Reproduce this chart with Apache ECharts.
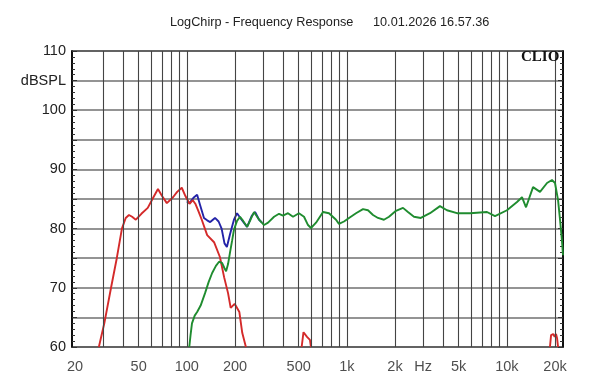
<!DOCTYPE html>
<html>
<head>
<meta charset="utf-8">
<script src="https://cdn.jsdelivr.net/npm/echarts@6/dist/echarts.min.js"></script>
<style>
html,body{margin:0;padding:0;background:#fff;}
#c{width:600px;height:384px;}
</style>
</head>
<body>
<div id="c"></div>
<script>
// ---- data ----
const titleText = 'LogChirp - Frequency Response';
const dateText = '10.01.2026 16.57.36';

const xGridFreqs = [30,40,50,60,70,80,90,100,200,300,400,500,600,700,800,900,1000,
  2000,3000,4000,5000,6000,7000,8000,9000,10000,20000];
const xLabelValues = [20,50,100,200,500,1000,2000,3000,5000,10000,20000];
const xLabelTexts = ['20','50','100','200','500','1k','2k','Hz','5k','10k','20k'];

const redMain = [[28.2,60],[30.5,64],[33.6,70],[36.5,75],[39.3,80],[41.5,81.8],[43.5,82.3],[45.5,82],
  [48,81.5],[52,82.5],[57,83.5],[61,85],[66,86.7],[70,85.5],[75,84.3],[82,85.3],[87,86.2],[93,86.9],
  [98,85.5],[104,84.2],[109,84.8],[113,84.2],[118,83],[124,81.5],[134,78.9],[148,77.7],[161,75.2],
  [171,71.8],[181,69.1],[188,66.6],[199,67.3],[213,65.9],[222,62.4],[234,60]];
const redBump1 = [[522,60],[536,62.5],[564,61.7],[588,61.2],[597,60]];
const redBump2 = [[18600,60],[18900,62],[19500,62.2],[19900,61.7],[20300,62.2],[20600,61.5],[20900,60]];

const blueSum = [[100,84.6],[104,84.3],[110,85.2],[116,85.7],[121,84],[128,81.8],[134,81.4],[140,81.1],
  [150,81.8],[158,81.2],[165,80],[172,77.5],[178,76.9],[186,79],[197,81.5],[206,82.6],[212,82.8],
  [220,81.5],[238,80.3],[255,82.2],[267,82.8],[283,81.5],[295,81]];

const greenHigh = [[103.6,60],[105.5,62],[107.7,64],[112,65.3],[116,65.9],[122,67],[130,69.1],[137,71],
  [144,72.5],[152,73.7],[159,74.4],[166,74.2],[172,73.3],[176,72.8],[181,74],[186,75.9],[192,78],
  [197,79.8],[206,81.3],[215,82],[225,81.3],[238,80.3],[250,81.5],[263,82.8],[283,81.5],[304,80.6],
  [322,81],[351,82],[377,82.5],[399,82.2],[429,82.6],[461,82],[502,82.6],[540,82],[572,80.6],
  [597,80.1],[642,81],[710,82.8],[774,82.6],[856,81.5],[893,80.8],[960,81.2],[1032,81.8],[1141,82.6],
  [1262,83.3],[1356,83.1],[1458,82.3],[1566,81.8],[1706,81.5],[1835,82],[2028,83],[2244,83.5],
  [2410,82.8],[2628,82],[2900,81.8],[3310,82.6],[3820,83.8],[4226,83.1],[4880,82.6],[5890,82.6],
  [7516,82.8],[8434,82.1],[10020,83.1],[11576,84.5],[12440,85.3],[13180,83.6],[14580,87],[16120,86.2],
  [17830,87.7],[19140,88.2],[20000,87.7],[20900,84.8],[21500,81.5],[22100,78],[22440,75.5]];

const yMin = 60, yMax = 110, yStep = 5;

// ---- chart ----
const chart = echarts.init(document.getElementById('c'), null, {renderer:'canvas'});
const FONT = 'Liberation Sans';
function curve(data, color, z){
  return {type:'line', data:data, symbol:'none', smooth:false, z:z,
    lineStyle:{color:color, width:1.9}, animation:false, silent:true};
}
chart.setOption({
  backgroundColor:'#fff',
  animation:false,
  title:[
    {text:titleText, left:170, top:16, padding:0, textStyle:{fontFamily:FONT, fontSize:12.7, fontWeight:'normal', color:'#222'}},
    {text:dateText, left:373, top:16, padding:0, textStyle:{fontFamily:FONT, fontSize:12.7, fontWeight:'normal', color:'#222'}}
  ],
  graphic:[{type:'text', left:521, top:50, z:100,
    style:{text:'CLIO', fontFamily:'Liberation Serif', fontWeight:'bold', fontSize:15, fill:'#111'}}],
  grid:{left:72, right:37, top:51, bottom:37, show:true, borderColor:'#000', borderWidth:1.5, backgroundColor:'#fff'},
  xAxis:{type:'log', logBase:10, min:19.16, max:22440,
    axisLine:{show:false}, axisTick:{show:false}, axisLabel:{show:false},
    splitLine:{show:false}, minorTick:{show:false}, minorSplitLine:{show:false}},
  yAxis:[
    {type:'value', min:yMin, max:yMax, interval:yStep, position:'left',
      axisLine:{show:true, lineStyle:{color:'#000', width:1.5}},
      axisTick:{show:true, inside:true, length:5, lineStyle:{color:'#333'}},
      minorTick:{show:true, splitNumber:5, length:3, lineStyle:{color:'#333'}},
      axisLabel:{margin:6, fontFamily:FONT, fontSize:14.5, color:'#222',
        formatter:function(v){ if(v%10===0) return String(v); if(v===105) return 'dBSPL'; return ''; }},
      splitLine:{show:true, lineStyle:{color:'#707070', width:1.5}}},
    {type:'value', min:yMin, max:yMax, interval:yStep, position:'right',
      axisLine:{show:true, lineStyle:{color:'#000', width:1.5}},
      axisTick:{show:true, inside:true, length:5, lineStyle:{color:'#333'}},
      minorTick:{show:true, splitNumber:5, length:3, lineStyle:{color:'#333'}},
      axisLabel:{show:false}, splitLine:{show:false}}
  ],
  series:[
    {type:'line', data:[], z:1, silent:true, animation:false,
      markLine:{silent:true, symbol:['none','none'], animation:false,
        label:{show:false},
        lineStyle:{color:'#444', width:1.1, type:'solid'},
        emphasis:{disabled:true},
        data:xGridFreqs.map(function(f){return {xAxis:f};})}},
    curve(blueSum, '#2323a8', 3),
    curve(redMain, '#d42a2a', 4),
    curve(redBump1, '#d42a2a', 4),
    curve(redBump2, '#d42a2a', 4),
    curve(greenHigh, '#1f8c2f', 5),
    {type:'scatter', clip:false, silent:true, animation:false, z:6,
      data:xLabelValues.map(function(f){return [f, yMin];}),
      symbolSize:1, itemStyle:{color:'rgba(0,0,0,0)'},
      label:{show:true, position:'bottom', distance:12, fontFamily:FONT, fontSize:14.5, color:'#222',
        formatter:function(p){return xLabelTexts[p.dataIndex];}}}
  ]
});
</script>
</body>
</html>
